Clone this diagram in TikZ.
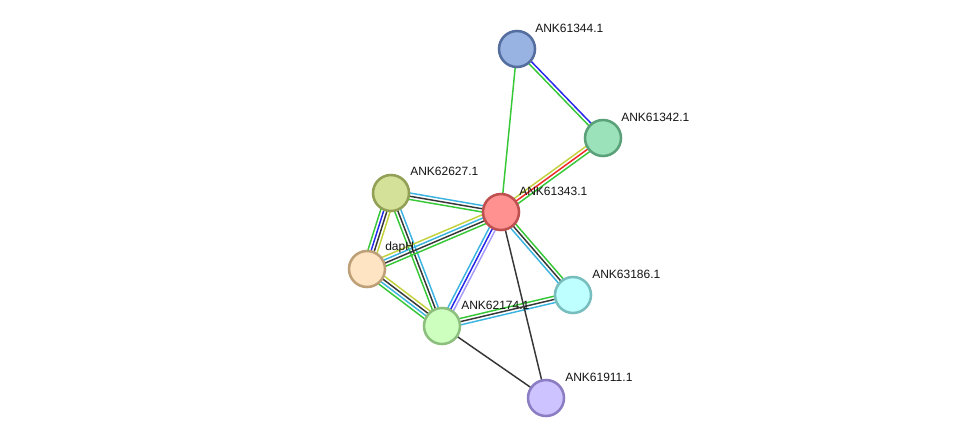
\documentclass[tikz,border=0pt]{standalone}
\usepackage{fontspec}
\setmainfont{Liberation Sans}
\usetikzlibrary{calc,backgrounds}
\definecolor{ink}{RGB}{20,20,20}
\definecolor{evgreen}{RGB}{55,200,55}
\definecolor{evblue}{RGB}{40,40,235}
\definecolor{evcyan}{RGB}{60,180,225}
\definecolor{evblack}{RGB}{55,55,55}
\definecolor{evyellow}{RGB}{195,210,60}
\definecolor{evred}{RGB}{240,40,40}
\definecolor{evlav}{RGB}{165,155,250}
\tikzset{
    protein/.style={
        circle,
        line width=1.9pt,
        minimum size=27pt,
        inner sep=0pt
    },
    lbl/.style={
        anchor=west,
        font=\fontsize{9}{10}\selectfont,
        text=ink,
        inner sep=0pt
    },
    evidence/.style={
        line width=1.1pt
    }
}
% one coloured line per evidence channel, laid side by side
\newcommand{\bond}[3]{%
    \foreach \c [count=\k] in {#3} {\xdef\nb{\k}}
    \foreach \c [count=\k] in {#3} {
        \pgfmathsetmacro\off{(\k-(\nb+1)/2)*2.4}
        \draw[evidence, draw=\c] ($(#1)!\off pt!90:(#2)$) -- ($(#2)!\off pt!-90:(#1)$);
    }
}

\begin{document}
\begin{tikzpicture}[x=0.75pt, y=-0.75pt]
\useasboundingbox (0,0) rectangle (975,444);

% Proteins
\node[protein, fill={rgb,255:red,152;green,178;blue,225}, draw={rgb,255:red,85;green,110;blue,160}] (n44) at (517,49) {};
\node[protein, fill={rgb,255:red,155;green,225;blue,185}, draw={rgb,255:red,90;green,160;blue,120}] (n42) at (603,138) {};
\node[protein, fill={rgb,255:red,255;green,145;blue,145}, draw={rgb,255:red,190;green,80;blue,80}] (n43) at (501,212) {};
\node[protein, fill={rgb,255:red,212;green,225;blue,152}, draw={rgb,255:red,145;green,160;blue,85}] (n27) at (391,193) {};
\node[protein, fill={rgb,255:red,255;green,228;blue,195}, draw={rgb,255:red,190;green,160;blue,120}] (dap) at (367,269) {};
\node[protein, fill={rgb,255:red,205;green,255;blue,190}, draw={rgb,255:red,140;green,190;blue,125}] (n74) at (442,326) {};
\node[protein, fill={rgb,255:red,190;green,255;blue,255}, draw={rgb,255:red,120;green,190;blue,190}] (n86) at (573,295) {};
\node[protein, fill={rgb,255:red,205;green,195;blue,255}, draw={rgb,255:red,140;green,125;blue,195}] (n11) at (546,398) {};

% Labels
\node[lbl] (l44) at ($(n44)+(18,-21)$) {ANK61344.1};
\node[lbl] (l42) at ($(n42)+(18,-21)$) {ANK61342.1};
\node[lbl] (l43) at ($(n43)+(18,-21)$) {ANK61343.1};
\node[lbl] (l27) at ($(n27)+(19,-22)$) {ANK62627.1};
\node[lbl] (ldap) at ($(dap)+(18,-22)$) {dapH};
\node[lbl] (l74) at ($(n74)+(19,-21)$) {ANK62174.1};
\node[lbl] (l86) at ($(n86)+(19,-21)$) {ANK63186.1};
\node[lbl] (l11) at ($(n11)+(19,-21)$) {ANK61911.1};

% Edges
\begin{pgfonlayer}{background}
    \fill[white] (0,0) rectangle (975,444);
    \bond{n44}{n43}{evgreen}
    \bond{n44}{n42}{evgreen,evblue}
    \bond{n43}{n42}{evgreen,evred,evyellow}
    \bond{n27}{n43}{evgreen,evblack,evcyan}
    \bond{n27}{dap}{evgreen,evblue,evblack,evyellow}
    \bond{n27}{n74}{evgreen,evblack,evcyan}
    \bond{dap}{n43}{evgreen,evblack,evcyan,evyellow}
    \bond{dap}{n74}{evgreen,evcyan,evblack,evyellow}
    \bond{n43}{n74}{evcyan,evblue,evlav}
    \bond{n43}{n86}{evcyan,evblack,evgreen}
    \bond{n74}{n86}{evcyan,evblack,evgreen}
    \bond{n43}{n11}{evblack}
    \bond{n74}{n11}{evblack}
\end{pgfonlayer}
\end{tikzpicture}
\end{document}
